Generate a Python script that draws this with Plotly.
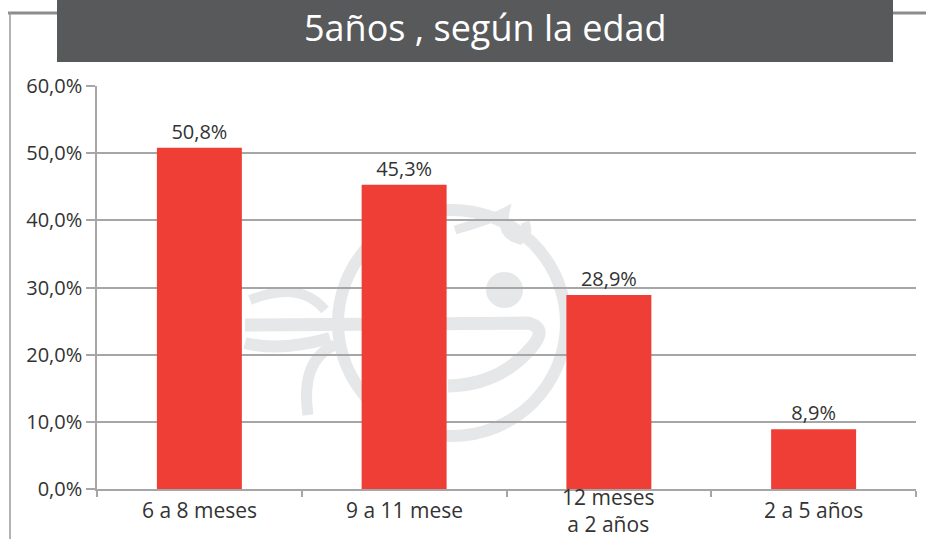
import plotly.graph_objects as go

categories = ["6 a 8 meses", "9 a 11 mese", "12 meses<br>a 2 años", "2 a 5 años"]
values = [0.508, 0.453, 0.289, 0.089]
y_ticks = [0, 0.1, 0.2, 0.3, 0.4, 0.5, 0.6]
title_text = "5años , según la edad"

W, H = 926, 539
L, R, T, B = 97, 10, 86, 50
pw, ph = W - L - R, H - T - B

def px_x(px):
    return (px - L) / pw

def px_y(py):
    return (H - B - py) / ph

def px_path(cmds):
    out = []
    for c in cmds:
        if isinstance(c, str):
            out.append(c)
        else:
            out.append(f"{px_x(c[0]):.4f},{px_y(c[1]):.4f}")
    return " ".join(out)

FONT = "'Open Sans', Lato, sans-serif"
TXT = "#333333"
GRID = "#a6a6a6"
WM = "#e6e7e8"

fig = go.Figure()
fig.add_trace(go.Bar(
    x=categories, y=values, width=0.415,
    marker=dict(color="#ef3e36", line=dict(width=0)),
    text=values, texttemplate="%{y:.1%}", textposition="outside",
    textfont=dict(size=20, color=TXT, family=FONT),
    cliponaxis=False, hoverinfo="skip",
))

shapes = [
    # watermark (decorative)
    dict(type="circle", xref="paper", yref="paper", x0=px_x(338), x1=px_x(566), y0=px_y(436), y1=px_y(210),
         line=dict(color=WM, width=12), layer="below"),
    dict(type="circle", xref="paper", yref="paper", x0=px_x(486), x1=px_x(523), y0=px_y(308), y1=px_y(272),
         fillcolor=WM, line=dict(width=0), layer="below"),
    dict(type="path", xref="paper", yref="paper",
         path=px_path(["M", (245, 325), "L", (528, 323), "Q", (548, 328), (532, 347), "Q", (500, 385), (448, 386)]),
         line=dict(color=WM, width=13), layer="below"),
    dict(type="path", xref="paper", yref="paper",
         path=px_path(["M", (245, 343), "Q", (280, 352), (330, 338)]),
         line=dict(color=WM, width=12), layer="below"),
    dict(type="path", xref="paper", yref="paper",
         path=px_path(["M", (308, 415), "Q", (300, 360), (335, 345)]),
         line=dict(color=WM, width=11), layer="below"),
    dict(type="path", xref="paper", yref="paper",
         path=px_path(["M", (250, 300), "Q", (300, 280), (325, 310)]),
         line=dict(color=WM, width=10), layer="below"),
    dict(type="path", xref="paper", yref="paper",
         path=px_path(["M", (455, 230), "Q", (490, 220), (505, 212), "Q", (500, 235), (520, 240), "Q", (530, 235), (525, 222)]),
         line=dict(color=WM, width=9), layer="below"),
    # frame
    dict(type="line", xref="paper", yref="paper", x0=px_x(8), x1=px_x(926), y0=px_y(13), y1=px_y(13),
         line=dict(color="#8c8c8c", width=3), layer="below"),
    dict(type="line", xref="paper", yref="paper", x0=px_x(10), x1=px_x(10), y0=px_y(12), y1=px_y(539),
         line=dict(color="#9a9a9a", width=1.5), layer="below"),
    dict(type="rect", xref="paper", yref="paper", x0=px_x(57), x1=px_x(893), y0=px_y(62), y1=px_y(-2),
         fillcolor="#58595b", line=dict(width=0), layer="above"),
]

annotations = [
    dict(text=title_text, xref="paper", yref="paper", x=px_x(485), y=px_y(28),
         xanchor="center", yanchor="middle", showarrow=False,
         font=dict(size=36, color="white", family=FONT)),
]
for c in categories:
    annotations.append(dict(text=c, xref="x", yref="paper", x=c, y=px_y(510),
                            xanchor="center", yanchor="middle", showarrow=False,
                            font=dict(size=21, color=TXT, family=FONT)))

fig.update_layout(
    width=W, height=H, margin=dict(l=L, r=R, t=T, b=B),
    paper_bgcolor="white", plot_bgcolor="white",
    separators=",.", showlegend=False,
    shapes=shapes, annotations=annotations,
    xaxis=dict(showticklabels=False, showgrid=False, showline=True, linecolor=GRID, linewidth=1.5,
               ticks="outside", tickson="boundaries", ticklen=6, tickcolor=GRID, tickwidth=1.5,
               fixedrange=True),
    yaxis=dict(range=[0, 0.6], tickvals=y_ticks, tickformat=".1%", showgrid=True, gridcolor=GRID,
               gridwidth=1.5, showline=True, linecolor=GRID, linewidth=1.5, ticks="outside",
               ticklen=9, tickcolor=GRID, tickwidth=1.5, zeroline=False,
               tickfont=dict(size=20, color=TXT, family=FONT), fixedrange=True),
)

fig.write_html("out.html")
